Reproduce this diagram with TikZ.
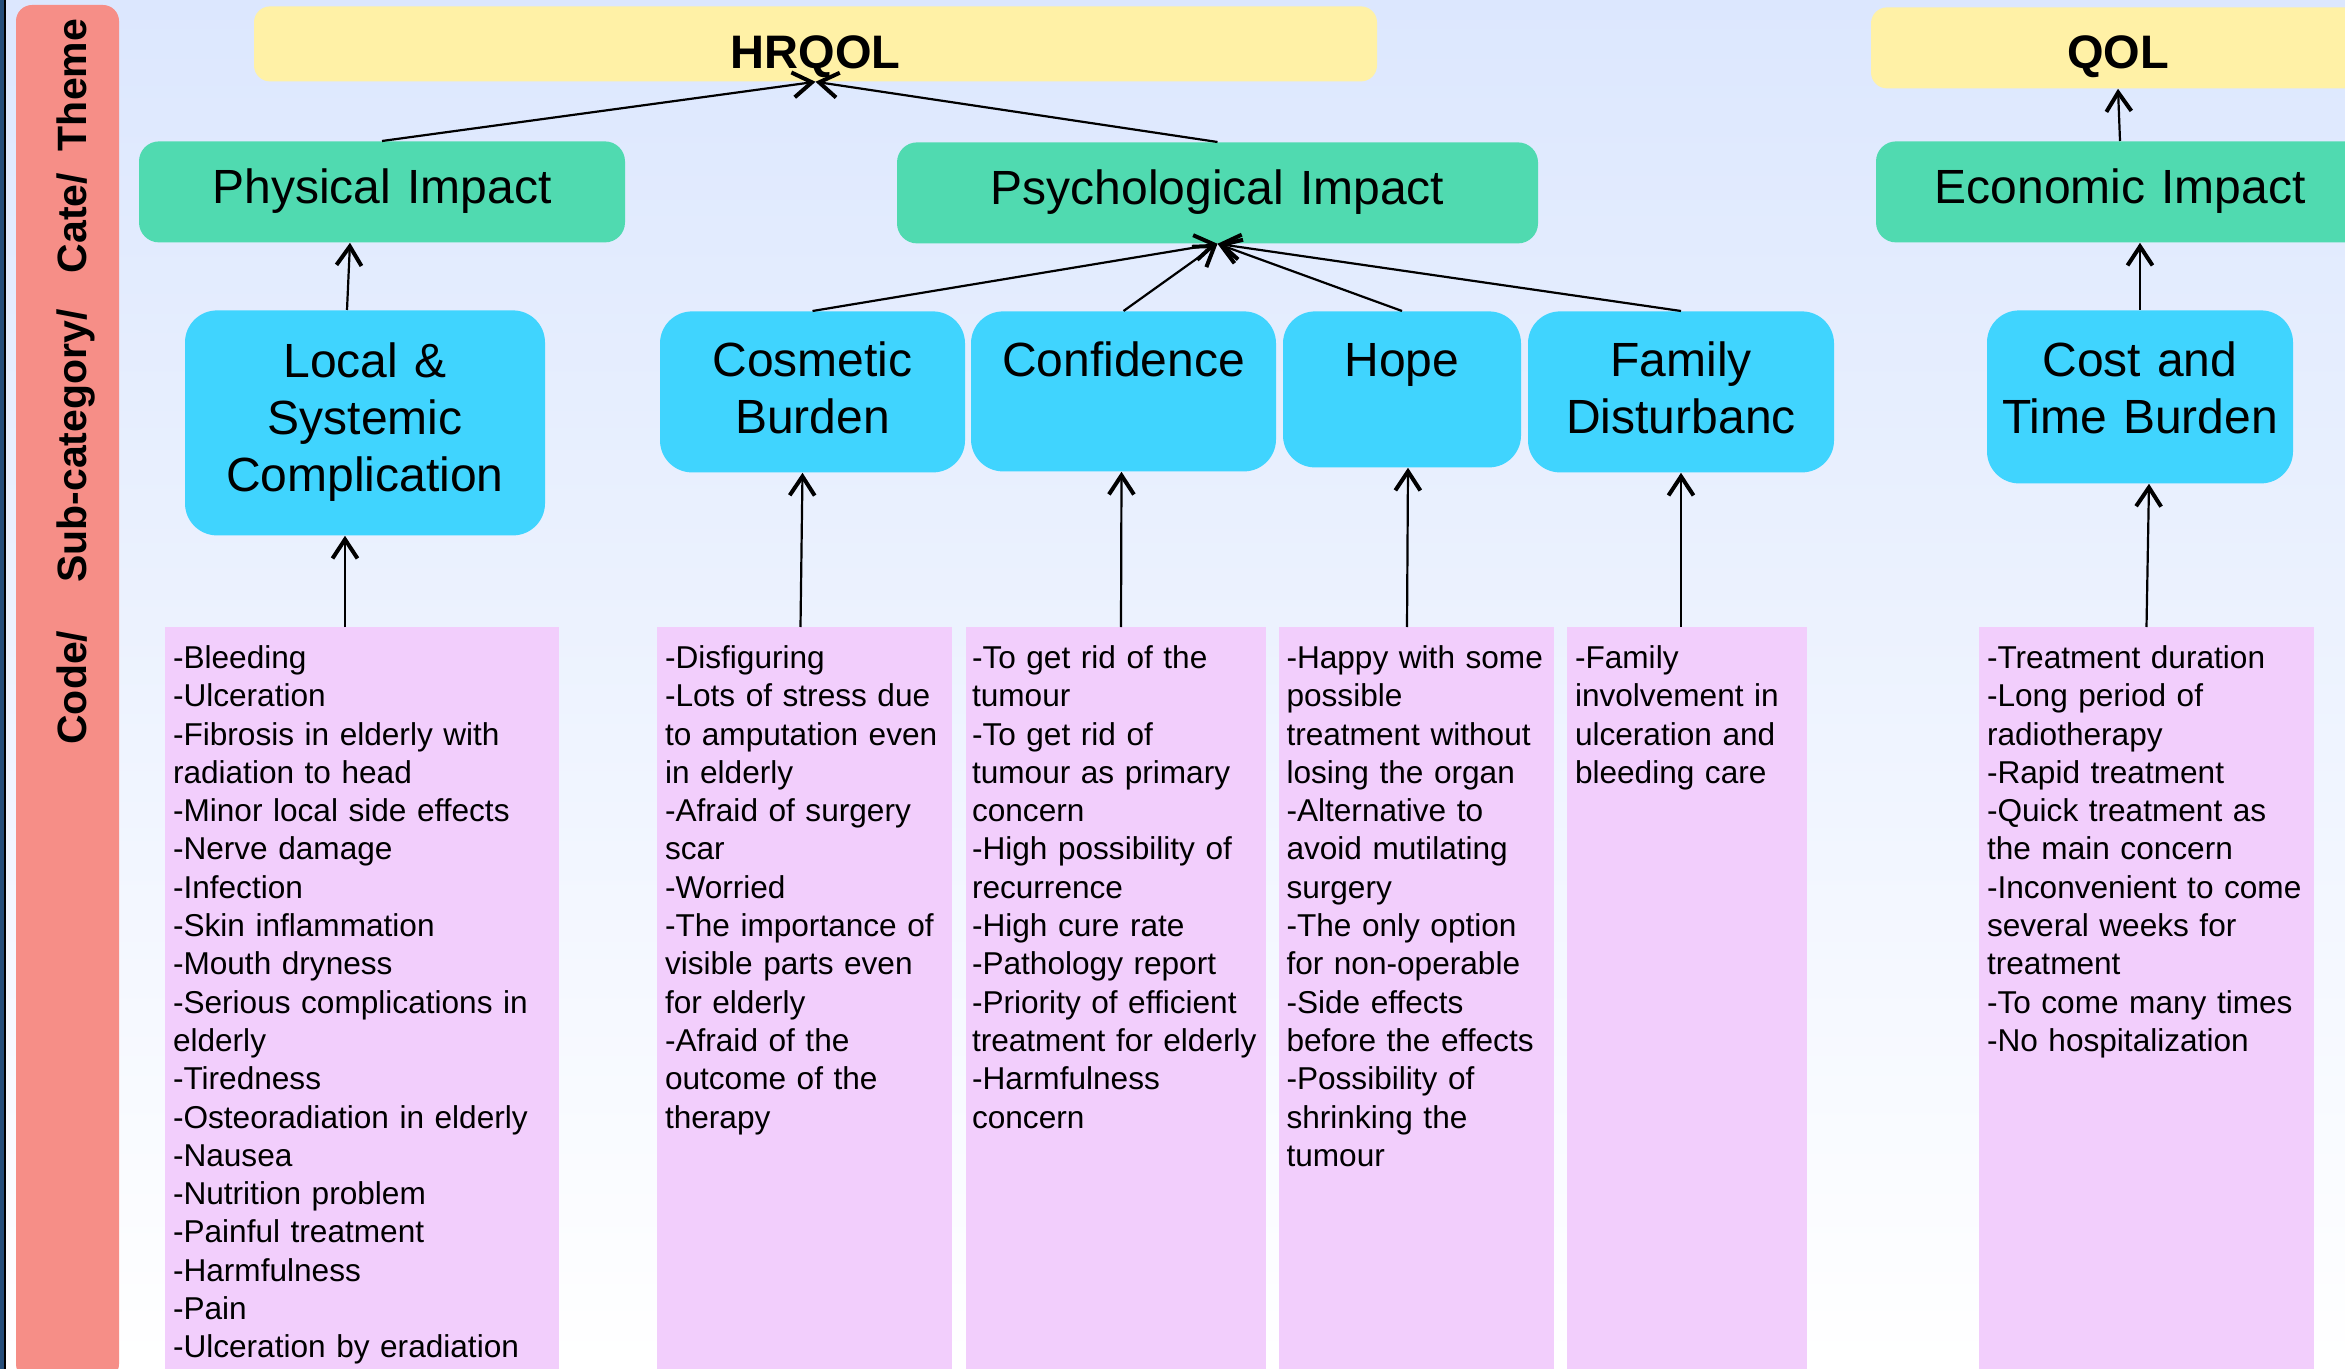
\documentclass[tikz,border=0pt]{standalone}
\usepackage{fontspec}
\setmainfont{Liberation Sans}
\usetikzlibrary{arrows.meta}

\definecolor{bgtop}{RGB}{220,231,254}
\definecolor{edgeblue}{RGB}{38,78,122}
\definecolor{sidered}{RGB}{246,142,135}
\definecolor{themeyellow}{RGB}{255,241,166}
\definecolor{categreen}{RGB}{80,218,176}
\definecolor{subcyan}{RGB}{64,212,254}
\definecolor{codepink}{RGB}{242,206,252}

\hyphenpenalty=10000
\exhyphenpenalty=10000

\begin{document}
\begin{tikzpicture}[x=0.5pt, y=-0.5pt,
    theme/.style={fill=themeyellow, rounded corners=8pt, inner sep=0pt, anchor=north, align=center,
        font=\fontsize{23.5pt}{28pt}\selectfont\bfseries},
    cate/.style={fill=categreen, rounded corners=10pt, inner sep=0pt, anchor=north, align=center,
        text height=31pt, text depth=19.5pt, font=\fontsize{24pt}{28.5pt}\selectfont},
    subcat/.style={fill=subcyan, rounded corners=16pt, inner sep=0pt, anchor=north, align=center,
        text height=32.5pt, font=\fontsize{24pt}{28.5pt}\selectfont},
    codebox/.style={fill=codepink, inner xsep=4pt, inner ysep=0pt, anchor=north, align=left,
        text height=20.5pt, text depth=353pt, font=\fontsize{15.8pt}{19.15pt}\selectfont},
    uparrow/.style={line width=1.1pt, -{Straight Barb[length=9.5pt, width=12.5pt, line width=2pt]}}
]
    % Page frame and background
    \useasboundingbox (0,0) rectangle (2345,1369);
    \clip (0,0) rectangle (2345,1369);
    \shade[top color=bgtop, bottom color=white] (0,0) rectangle (2345,1369);
    \fill[edgeblue] (0,0) rectangle (4,1369);
    \draw[line width=1pt] (5,0) -- (5,1369);

    % Side band with the level names
    \fill[sidered, rounded corners=8pt] (16,5) rectangle (119,1380);
    \node[rotate=90, anchor=base west, inner sep=0pt, font=\fontsize{20.5pt}{24pt}\selectfont\bfseries] (levels) at (86,745)
        {Code/\hspace{24pt}Sub-category/\hspace{18pt}Cate/\hspace{11pt}Theme};

    % Themes
    \node[theme, text width=561.5pt, text height=31pt, text depth=6.5pt] (hrqol) at (815.5,6) {HRQOL};
    \node[theme, text width=247pt, text height=30.5pt, text depth=10pt] (qol) at (2118,7) {QOL};

    % Categories
    \node[cate, text width=243pt] (phys) at (382,141) {Physical Impact};
    \node[cate, text width=320.5pt] (psych) at (1217.5,142) {Psychological Impact};
    \node[cate, text width=244pt] (econ) at (2120,141) {Economic Impact};

    % Sub-categories
    \node[subcat, text width=180pt, text height=33.5pt, text depth=79pt] (local) at (365,310) {Local \&\\Systemic\\Complication};
    \node[subcat, text width=152.5pt, text depth=48pt] (cosm) at (812.5,311) {Cosmetic\\Burden};
    \node[subcat, text width=152.5pt, text depth=47.5pt] (conf) at (1123.5,311) {Confidence};
    \node[subcat, text width=119pt, text depth=45.5pt] (hope) at (1402,311) {Hope};
    \node[subcat, text width=153pt, text depth=48pt] (family) at (1681,311) {Family\\Disturbanc};
    \node[subcat, text width=153pt, text height=33pt, text depth=53.5pt] (cost) at (2140,310) {Cost and\\Time Burden};

    % Codes
    \node[codebox, text width=189pt] (code1) at (362,627) {-Bleeding\\-Ulceration\\-Fibrosis in elderly with\\radiation to head\\-Minor local side effects\\-Nerve damage\\-Infection\\-Skin inflammation\\-Mouth dryness\\-Serious complications in\\elderly\\-Tiredness\\-Osteoradiation in elderly\\-Nausea\\-Nutrition problem\\-Painful treatment\\-Harmfulness\\-Pain\\-Ulceration by eradiation};
    \node[codebox, text width=139.5pt] (code2) at (804.5,627) {-Disfiguring\\-Lots of stress due\\to amputation even\\in elderly\\-Afraid of surgery\\scar\\-Worried\\-The importance of\\visible parts even\\for elderly\\-Afraid of the\\outcome of the\\therapy};
    \node[codebox, text width=144pt, inner xsep=3pt] (code3) at (1116,627) {-To get rid of the\\tumour\\-To get rid of\\tumour as primary\\concern\\-High possibility of\\recurrence\\-High cure rate\\-Pathology report\\-Priority of efficient\\treatment for elderly\\-Harmfulness\\concern};
    \node[codebox, text width=129.5pt] (code4) at (1416,627) {-Happy with some\\possible\\treatment without\\losing the organ\\-Alternative to\\avoid mutilating\\surgery\\-The only option\\for non-operable\\-Side effects\\before the effects\\-Possibility of\\shrinking the\\tumour};
    \node[codebox, text width=112pt] (code5) at (1687,627) {-Family\\involvement in\\ulceration and\\bleeding care};
    \node[codebox, text width=159.5pt] (code6) at (2146.5,627) {-Treatment duration\\-Long period of\\radiotherapy\\-Rapid treatment\\-Quick treatment as\\the main concern\\-Inconvenient to come\\several weeks for\\treatment\\-To come many times\\-No hospitalization};

    % Categories up to themes
    \draw[uparrow] (phys.north) -- (hrqol.south);
    \draw[uparrow] (psych.north) -- (hrqol.south);
    \draw[uparrow] (econ.north) -- (qol.south);

    % Sub-categories up to categories
    \draw[uparrow] ([xshift=-9pt]local.north) -- ([xshift=-16pt]phys.south);
    \foreach \s in {cosm, conf, hope, family} {
        \draw[uparrow] (\s.north) -- (psych.south);
    }
    \draw[uparrow] (cost.north) -- (cost.north |- econ.south);

    % Codes up to sub-categories
    \foreach \c/\s/\a/\b in {code1/local/-8.5/-10, code2/cosm/-2/-5, code3/conf/2.5/-1,
                             code4/hope/-4.5/3, code5/family/-3/0, code6/cost/0/4.5} {
        \draw[uparrow] ([xshift=\a pt]\c.north) -- ([xshift=\b pt]\s.south);
    }
\end{tikzpicture}
\end{document}
